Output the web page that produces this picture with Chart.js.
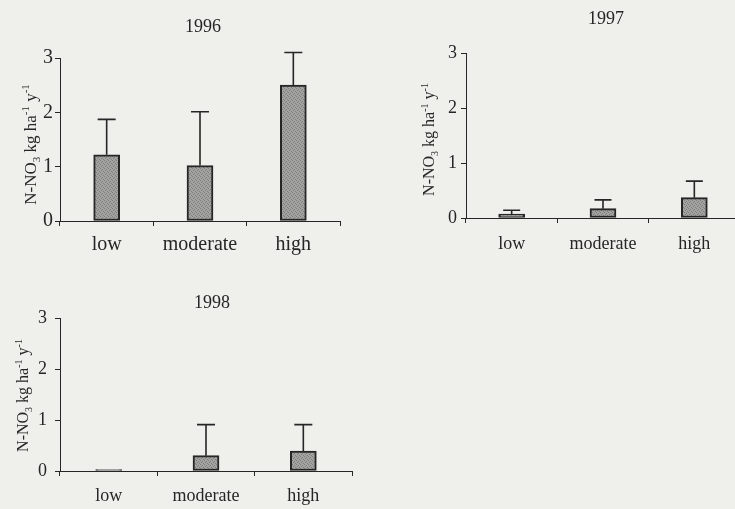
<!DOCTYPE html>
<html>
<head>
<meta charset="utf-8">
<script src="https://cdn.jsdelivr.net/npm/chart.js@4.4.1/dist/chart.umd.min.js"></script>
<style>
  html, body { margin: 0; padding: 0; background: #efefeb; overflow: hidden; }
  body { width: 735px; height: 509px; position: relative; }
  canvas { position: absolute; }
</style>
</head>
<body>
<canvas id="c1996" width="360" height="262" style="left:0px;top:0px"></canvas>
<canvas id="c1997" width="360" height="262" style="left:380px;top:0px"></canvas>
<canvas id="c1998" width="380" height="229" style="left:0px;top:280px"></canvas>
<script>
// nitrate export per catchment class, mean + upper error
const categories = ["low", "moderate", "high"];
const yTicks = [0, 1, 2, 3];

const mean1996 = [1.22, 1.02, 2.5];
const upper1996 = [1.87, 2.01, 3.1];

const mean1997 = [0.07, 0.17, 0.37];
const upper1997 = [0.14, 0.33, 0.67];

const mean1998 = [0.03, 0.3, 0.39];
const upper1998 = [0.03, 0.91, 0.91];

// y label pieces: [text, -1 = subscript, 1 = superscript]
const yTitleParts = [["N-NO", 0], ["3", -1], [" kg ha", 0], ["-1", 1], [" y", 0], ["-1", 1]];

const serif = "Liberation Serif";
const ink = "#262626";

function stipple() {
  const c = document.createElement("canvas");
  c.width = 4; c.height = 4;
  const g = c.getContext("2d");
  g.fillStyle = "#a3a3a0";
  g.fillRect(0, 0, 4, 4);
  g.fillStyle = "#7c7c7e";
  [[0, 0], [2, 1], [1, 2], [3, 3]].forEach(([x, y]) => g.fillRect(x, y, 1, 1));
  return g.createPattern(c, "repeat");
}

const errorBars = {
  id: "errorBars",
  afterDatasetsDraw(chart, args, opts) {
    const ctx = chart.ctx;
    const ys = chart.scales.y;
    const data = chart.data.datasets[0].data;
    ctx.save();
    ctx.strokeStyle = ink;
    ctx.lineWidth = 1.6;
    chart.getDatasetMeta(0).data.forEach((bar, i) => {
      if (opts.upper[i] <= data[i]) return;
      const yTop = ys.getPixelForValue(opts.upper[i]);
      ctx.beginPath();
      ctx.moveTo(bar.x, bar.y);
      ctx.lineTo(bar.x, yTop);
      ctx.moveTo(bar.x - opts.cap / 2, yTop);
      ctx.lineTo(bar.x + opts.cap / 2, yTop);
      ctx.stroke();
    });
    ctx.restore();
  }
};

// year heading and the rotated y label with sub/superscripts
const panelText = {
  id: "panelText",
  afterDraw(chart, args, opts) {
    const ctx = chart.ctx;
    const a = chart.chartArea;
    ctx.save();
    ctx.fillStyle = ink;
    ctx.textBaseline = "middle";
    ctx.textAlign = "center";
    ctx.font = opts.titleSize + "px '" + serif + "'";
    ctx.fillText(opts.title, (a.left + a.right) / 2 + opts.titleDx, opts.titleY);

    const big = opts.labelSize, small = Math.round(opts.labelSize * 0.62);
    const fontOf = k => (k ? small : big) + "px '" + serif + "'";
    let total = 0;
    yTitleParts.forEach(([t, k]) => { ctx.font = fontOf(k); total += ctx.measureText(t).width; });
    ctx.translate(a.left - opts.labelOffset, (a.top + a.bottom) / 2 + opts.labelDy);
    ctx.rotate(-Math.PI / 2);
    ctx.textAlign = "left";
    ctx.textBaseline = "alphabetic";
    let x = -total / 2;
    const base = big * 0.34;
    yTitleParts.forEach(([t, k]) => {
      ctx.font = fontOf(k);
      const shift = k < 0 ? big * 0.22 : k > 0 ? -big * 0.42 : 0;
      ctx.fillText(t, x, base + shift);
      x += ctx.measureText(t).width;
    });
    ctx.restore();
  }
};

function makePanel(id, title, means, upper, L) {
  return new Chart(document.getElementById(id), {
    type: "bar",
    data: {
      labels: categories,
      datasets: [{
        data: means,
        backgroundColor: stipple(),
        borderColor: ink,
        borderWidth: 2,
        borderSkipped: false,
        barThickness: 26
      }]
    },
    options: {
      responsive: false,
      animation: false,
      devicePixelRatio: 1,
      layout: { padding: { top: L.top, right: L.right, bottom: L.bottom, left: 0 } },
      plugins: {
        legend: { display: false },
        tooltip: { enabled: false },
        errorBars: { upper: upper, cap: L.cap },
        panelText: {
          title: title, titleY: L.titleY, titleDx: L.titleDx, titleSize: 18,
          labelSize: L.labelSize, labelOffset: L.labelOffset, labelDy: L.labelDy
        }
      },
      scales: {
        x: {
          offset: true,
          grid: { offset: true, drawOnChartArea: false, tickLength: 5, color: ink, tickColor: ink },
          border: { color: ink, width: 1 },
          ticks: { color: ink, font: { family: serif, size: L.catSize }, padding: L.catPad, maxRotation: 0 },
          afterFit: s => { s.height = L.xH; }
        },
        y: {
          min: 0,
          max: 3,
          afterBuildTicks: s => { s.ticks = yTicks.map(v => ({ value: v })); },
          grid: { drawOnChartArea: false, tickLength: 5, color: ink, tickColor: ink },
          border: { color: ink, width: 1 },
          ticks: { color: ink, font: { family: serif, size: L.tickSize }, padding: L.tickPad },
          afterFit: s => { s.width = L.axisX; }
        }
      }
    },
    plugins: [errorBars, panelText]
  });
}

makePanel("c1996", "1996", mean1996, upper1996, {
  axisX: 60, top: 58, right: 20, bottom: 1, xH: 40,
  tickSize: 20, tickPad: 2, catSize: 20, catPad: 7, cap: 18,
  titleY: 27, titleDx: 3, labelSize: 17, labelOffset: 30, labelDy: 5
});

makePanel("c1997", "1997", mean1997, upper1997, {
  axisX: 86, top: 53, right: 0, bottom: 4, xH: 40,
  tickSize: 18, tickPad: 4, catSize: 18, catPad: 10, cap: 17,
  titleY: 19, titleDx: 3, labelSize: 16, labelOffset: 37, labelDy: 4
});

makePanel("c1998", "1998", mean1998, upper1998, {
  axisX: 60, top: 38, right: 28, bottom: 0, xH: 38,
  tickSize: 18, tickPad: 8, catSize: 18, catPad: 9, cap: 18,
  titleY: 23, titleDx: 6, labelSize: 16, labelOffset: 37, labelDy: 1
});
</script>
</body>
</html>
